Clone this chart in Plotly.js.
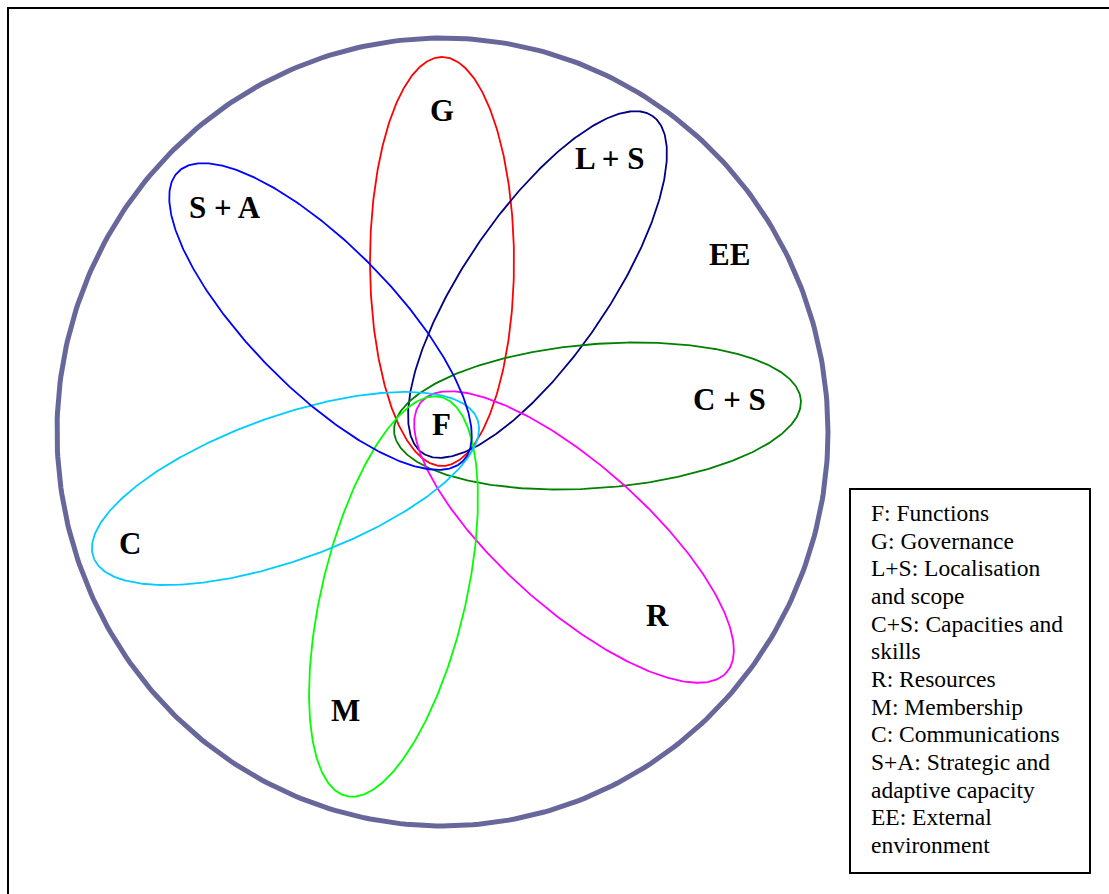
<!DOCTYPE html>
<html>
<head>
<meta charset="utf-8">
<script src="https://cdn.plot.ly/plotly-3.0.1.min.js"></script>
<style>html,body{margin:0;padding:0;background:#fff;}#chart{width:1109px;height:894px;}</style>
</head>
<body>
<div id="chart"></div>
<script>
// Ellipse components (centre, semi-axes, rotation in degrees, counter-clockwise)
const names   = ['G', 'L + S', 'C + S', 'R', 'M', 'C', 'S + A'];
const centerX = [442, 537.5, 597.5, 574, 393.5, 285.5, 320.5];
const centerY = [261.5, 284.5, 416, 537, 596.5, 488.5, 316.5];
const semiA   = [204.5, 204, 204, 204, 205, 204, 203];
const semiB   = [72, 72, 72, 72, 72, 72, 72];
const angles  = [90, 55.7, 4.5, -41.6, 76.7, 19.7, -45.5];
const colors  = ['#ff0000', '#000080', '#008000', '#ff00ff', '#00ff00', '#00ccff', '#0000ff'];

// Labels
const labelText = ['G', 'L + S', 'S + A', 'EE', 'C + S', 'F', 'C', 'R', 'M'];
const labelX    = [442, 609, 225, 729, 729, 441, 130, 657, 345];
const labelY    = [110, 158, 207, 254, 399, 424, 543, 615, 710];

// Outer environment circle
const outer = {cx: 442.5, cy: 432, rx: 385.5, ry: 394};

// Legend lines
const legendLines = ['F: Functions', 'G: Governance', 'L+S: Localisation', 'and scope',
  'C+S: Capacities and', 'skills', 'R: Resources', 'M: Membership', 'C: Communications',
  'S+A: Strategic and', 'adaptive capacity', 'EE: External', 'environment'];

function ellipse(cx, cy, a, b, deg, n) {
  const th = deg * Math.PI / 180, xs = [], ys = [];
  for (let i = 0; i <= n; i++) {
    const t = 2 * Math.PI * i / n;
    const ex = a * Math.cos(t), ey = b * Math.sin(t);
    xs.push(cx + ex * Math.cos(th) - ey * Math.sin(th));
    ys.push(cy - (ex * Math.sin(th) + ey * Math.cos(th)));
  }
  return {xs, ys};
}

const traces = [];
const oc = ellipse(outer.cx, outer.cy, outer.rx, outer.ry, 0, 400);
traces.push({x: oc.xs, y: oc.ys, mode: 'lines', line: {color: '#67679b', width: 5}, hoverinfo: 'skip', showlegend: false});
for (let i = 0; i < names.length; i++) {
  const e = ellipse(centerX[i], centerY[i], semiA[i], semiB[i], angles[i], 400);
  traces.push({x: e.xs, y: e.ys, mode: 'lines', name: names[i], line: {color: colors[i], width: 1.8}, hoverinfo: 'skip', showlegend: false});
}

const serif = '"Liberation Serif", "Times New Roman", Times, serif';
const annotations = [];
for (let i = 0; i < labelText.length; i++) {
  annotations.push({x: labelX[i], y: labelY[i], xref: 'x', yref: 'y', text: '<b>' + labelText[i] + '</b>',
    showarrow: false, xanchor: 'center', yanchor: 'middle', font: {family: serif, size: 31, color: '#000'}});
}
const legTop = 513, legStep = 27.67, legLeft = 869;
legendLines.forEach((t, i) => {
  annotations.push({x: legLeft, y: legTop + i * legStep, xref: 'x', yref: 'y', text: t, showarrow: false,
    xanchor: 'left', yanchor: 'middle', font: {family: serif, size: 23.5, color: '#000'}});
});

const layout = {
  width: 1109, height: 894,
  margin: {l: 0, r: 0, t: 0, b: 0},
  paper_bgcolor: '#fff', plot_bgcolor: '#fff',
  xaxis: {range: [0, 1109], visible: false, fixedrange: true},
  yaxis: {range: [894, 0], visible: false, fixedrange: true},
  shapes: [
    {type: 'path', path: 'M 8 900 L 8 8 L 1115 8', xref: 'x', yref: 'y', line: {color: '#000', width: 2}},
    {type: 'rect', x0: 850, x1: 1090, y0: 489, y1: 873, xref: 'x', yref: 'y', line: {color: '#000', width: 2}}
  ],
  annotations: annotations
};

Plotly.newPlot('chart', traces, layout, {staticPlot: true, displayModeBar: false});
</script>
</body>
</html>
